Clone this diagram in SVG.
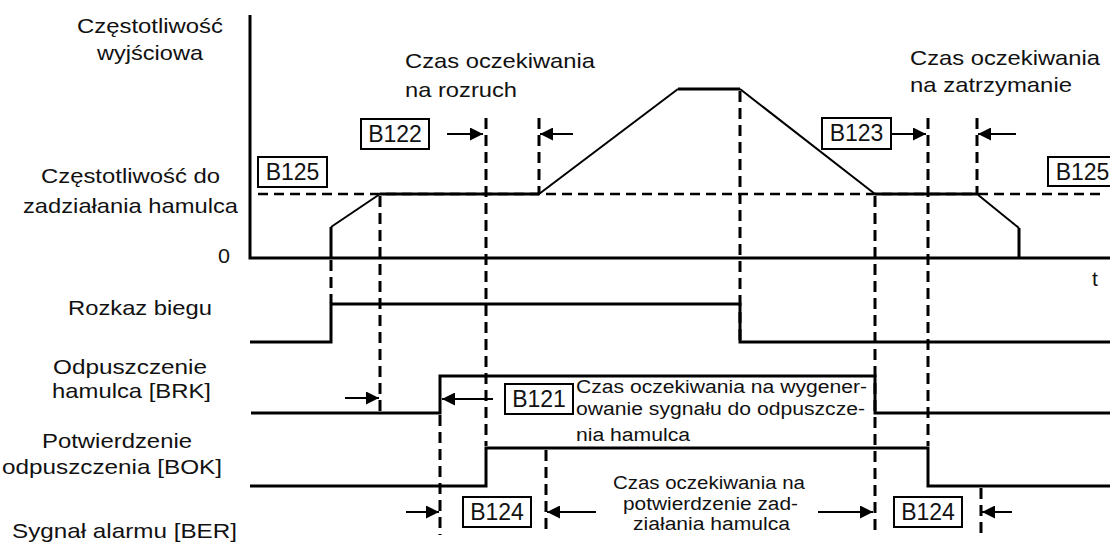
<svg xmlns="http://www.w3.org/2000/svg" width="1110" height="554" viewBox="0 0 1110 554">
<style>
.t{font-family:"Liberation Sans",Arial,sans-serif;font-size:21px;fill:#111}
.s{font-family:"Liberation Sans",Arial,sans-serif;font-size:18px;fill:#111}
.bt{font-family:"Liberation Sans",Arial,sans-serif;font-size:23px;fill:#111;text-anchor:middle}
.box{fill:#fff;stroke:#000;stroke-width:2}
.sig{fill:none;stroke:#000;stroke-width:3;stroke-linejoin:miter}
.diag{fill:none;stroke:#000;stroke-width:2}
.dash{fill:none;stroke:#000;stroke-width:3;stroke-dasharray:11 6}
.hdash{fill:none;stroke:#000;stroke-width:2.5;stroke-dasharray:10 6}
.arr{fill:none;stroke:#000;stroke-width:2;marker-end:url(#ah)}
</style>
<defs>
<marker id="ah" markerUnits="userSpaceOnUse" markerWidth="13" markerHeight="13" refX="13" refY="6.5" orient="auto">
<path d="M0,0 L13,6.5 L0,13 z" fill="#000"/>
</marker>
</defs>
<rect width="1110" height="554" fill="#fff"/>

<g id="labels">
<text class="t" x="77" y="33" textLength="146" lengthAdjust="spacingAndGlyphs">Częstotliwość</text>
<text class="t" x="97" y="60" textLength="106" lengthAdjust="spacingAndGlyphs">wyjściowa</text>
<text class="t" x="41" y="183" textLength="179" lengthAdjust="spacingAndGlyphs">Częstotliwość do</text>
<text class="t" x="23" y="213" textLength="215" lengthAdjust="spacingAndGlyphs">zadziałania hamulca</text>
<text class="t" x="218" y="263" textLength="12" lengthAdjust="spacingAndGlyphs">0</text>
<text class="t" x="68" y="315" textLength="144" lengthAdjust="spacingAndGlyphs">Rozkaz biegu</text>
<text class="t" x="53" y="374" textLength="154" lengthAdjust="spacingAndGlyphs">Odpuszczenie</text>
<text class="t" x="52" y="398" textLength="159" lengthAdjust="spacingAndGlyphs">hamulca [BRK]</text>
<text class="t" x="42" y="448" textLength="150" lengthAdjust="spacingAndGlyphs">Potwierdzenie</text>
<text class="t" x="2" y="474" textLength="220" lengthAdjust="spacingAndGlyphs">odpuszczenia [BOK]</text>
<text class="t" x="12" y="538" textLength="225" lengthAdjust="spacingAndGlyphs">Sygnał alarmu [BER]</text>
<text class="t" x="405" y="68" textLength="190" lengthAdjust="spacingAndGlyphs">Czas oczekiwania</text>
<text class="t" x="405" y="97" textLength="112" lengthAdjust="spacingAndGlyphs">na rozruch</text>
<text class="t" x="910" y="65" textLength="190" lengthAdjust="spacingAndGlyphs">Czas oczekiwania</text>
<text class="t" x="910" y="92" textLength="162" lengthAdjust="spacingAndGlyphs">na zatrzymanie</text>
<text class="t" x="1092" y="286">t</text>
<text class="s" x="576" y="393" textLength="291" lengthAdjust="spacingAndGlyphs">Czas oczekiwania na wygener-</text>
<text class="s" x="576" y="415" textLength="289" lengthAdjust="spacingAndGlyphs">owanie sygnału do odpuszcze-</text>
<text class="s" x="576" y="441" textLength="114" lengthAdjust="spacingAndGlyphs">nia hamulca</text>
<text class="s" x="613" y="489" textLength="192" lengthAdjust="spacingAndGlyphs">Czas oczekiwania na</text>
<text class="s" x="623" y="510" textLength="175" lengthAdjust="spacingAndGlyphs">potwierdzenie zad-</text>
<text class="s" x="633" y="530" textLength="157" lengthAdjust="spacingAndGlyphs">ziałania hamulca</text>
</g>

<g id="connectors">
<path class="sig" d="M250,15 V258 H1110"/>
<path class="hdash" d="M258,194 H1106"/>
<path class="sig" d="M331,258 V227"/>
<path class="diag" d="M331,227 L380,194"/>
<path class="sig" d="M380,194 H539"/>
<path class="diag" d="M539,194 L678,89"/>
<path class="sig" d="M678,89 H740"/>
<path class="diag" d="M740,89 L875,194"/>
<path class="sig" d="M875,194 H977"/>
<path class="diag" d="M977,194 L1019,228"/>
<path class="sig" d="M1019,228 V258"/>
<path class="sig" d="M250,342 H331 V304 H740 V342 H1110"/>
<path class="sig" d="M251,413 H440 V376 H875 V413 H1110"/>
<path class="sig" d="M250,486 H486 V448 H928 V486 H1110"/>
<path class="dash" d="M331,260 V303"/>
<path class="dash" d="M380,196 V413"/>
<path class="dash" d="M486,118 V446"/>
<path class="dash" d="M539,118 V194"/>
<path class="dash" d="M740,91 V342"/>
<path class="dash" d="M875,196 V535"/>
<path class="dash" d="M928,118 V446"/>
<path class="dash" d="M977,118 V194"/>
<path class="dash" d="M440,415 V535"/>
<path class="dash" d="M546,450 V535"/>
<path class="dash" d="M981,488 V535"/>
<path class="arr" d="M447,134 H483"/>
<path class="arr" d="M573,134 H540"/>
<path class="arr" d="M891,134 H926"/>
<path class="arr" d="M1016,134 H978"/>
<path class="arr" d="M345,398 H379"/>
<path class="arr" d="M493,399 H442"/>
<path class="arr" d="M406,512 H439"/>
<path class="arr" d="M596,512 H547"/>
<path class="arr" d="M818,512 H873"/>
<path class="arr" d="M1012,512 H982"/>
</g>

<g id="B125-left"><rect class="box" x="258" y="157" width="69" height="30"/><text class="bt" x="292.5" y="180">B125</text></g>
<g id="B122"><rect class="box" x="361" y="119" width="68" height="30"/><text class="bt" x="395" y="142">B122</text></g>
<g id="B123"><rect class="box" x="822" y="118" width="69" height="31"/><text class="bt" x="856.5" y="141">B123</text></g>
<g id="B125-right"><rect class="box" x="1048" y="157" width="69" height="29"/><text class="bt" x="1082.5" y="180">B125</text></g>
<g id="B121"><rect class="box" x="505" y="384" width="68" height="30"/><text class="bt" x="539" y="407">B121</text></g>
<g id="B124-left"><rect class="box" x="463" y="497" width="68" height="30"/><text class="bt" x="497" y="520">B124</text></g>
<g id="B124-right"><rect class="box" x="894" y="497" width="68" height="30"/><text class="bt" x="928" y="520">B124</text></g>
</svg>
